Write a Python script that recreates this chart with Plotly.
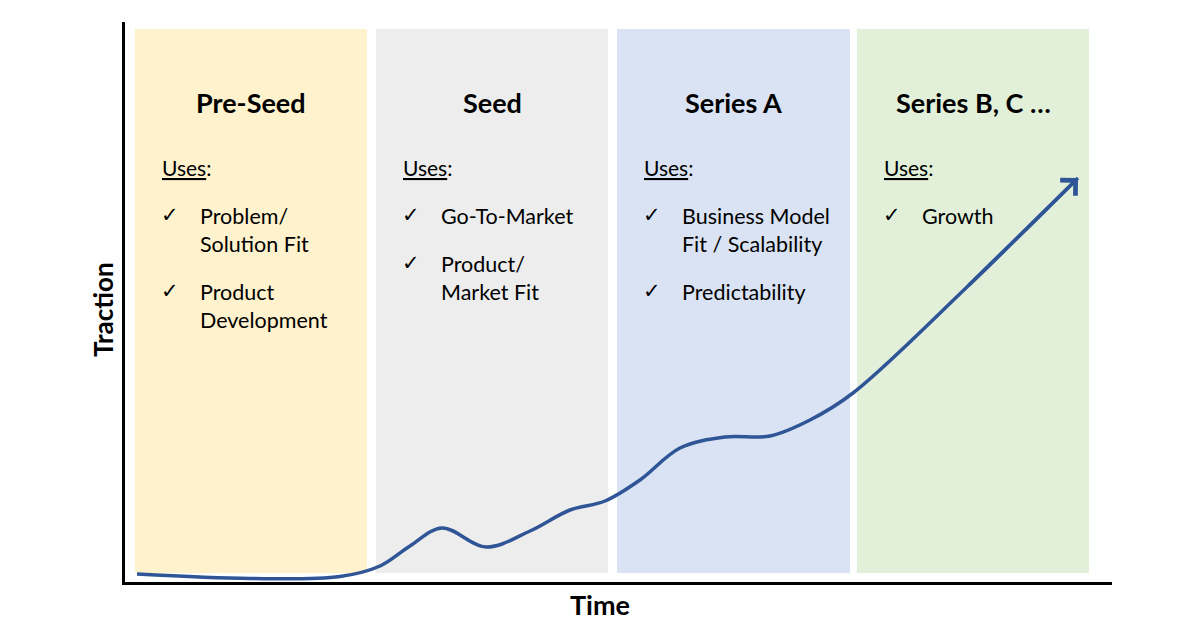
import plotly.graph_objects as go

# ---------------- data ----------------
time_pts = [0.12, 1.25, 2.15, 2.55, 2.85, 3.17, 3.61, 4.05, 4.45, 4.80, 5.15, 5.55,
            6.00, 6.45, 6.85, 7.28, 8.42, 9.53]
traction = [0.08, 0.035, 0.055, 0.16, 0.36, 0.54, 0.35, 0.51, 0.72, 0.81, 1.02, 1.34,
            1.45, 1.46, 1.62, 1.89, 2.95, 4.04]

stages = ["Pre-Seed", "Seed", "Series A", "Series B, C …"]
stage_start = [0.10, 2.51, 4.92, 7.32]
stage_end = [2.42, 4.83, 7.25, 9.64]
stage_colors = ["#FFF2CC", "#EDEDED", "#DAE3F3", "#E2F0D9"]
stage_uses = [
    [["Problem/", "Solution Fit"], ["Product", "Development"]],
    [["Go-To-Market"], ["Product/", "Market Fit"]],
    [["Business Model", "Fit / Scalability"], ["Predictability"]],
    [["Growth"]],
]
x_title = "Time"
y_title = "Traction"

# ---------------- layout constants ----------------
X_MAX, Y_MAX = 9.87, 5.60
PANEL_BOTTOM, PANEL_TOP = 0.09, 5.53
TITLE_Y, USES_Y, FIRST_ITEM_Y = 4.80, 4.15, 3.66
LINE_STEP, ITEM_GAP = 0.28, 0.20
FONT = "Lato, 'Open Sans', sans-serif"
LINE_COLOR = "#2F5597"

fig = go.Figure()

shapes = []
annotations = []
for name, x0, x1, col, uses in zip(stages, stage_start, stage_end, stage_colors, stage_uses):
    shapes.append(dict(type="rect", xref="x", yref="y", x0=x0, x1=x1,
                       y0=PANEL_BOTTOM, y1=PANEL_TOP, fillcolor=col,
                       line=dict(width=0), layer="below"))
    annotations.append(dict(x=(x0 + x1) / 2, y=TITLE_Y, xref="x", yref="y",
                            text=f"<b>{name}</b>", showarrow=False,
                            font=dict(family=FONT, size=27, color="#000000"),
                            xanchor="center", yanchor="middle"))
    annotations.append(dict(x=x0 + 0.25, y=USES_Y, xref="x", yref="y",
                            text="<span style='text-decoration:underline'>Uses</span>:",
                            showarrow=False,
                            font=dict(family=FONT, size=21, color="#000000"),
                            xanchor="left", yanchor="middle"))
    y = FIRST_ITEM_Y
    for item in uses:
        annotations.append(dict(x=x0 + 0.35, y=y + 0.015, xref="x", yref="y",
                                text="<b>✓</b>", showarrow=False,
                                font=dict(family="DejaVu Sans", size=21, color="#000000"),
                                xanchor="center", yanchor="middle"))
        for line in item:
            annotations.append(dict(x=x0 + 0.63, y=y, xref="x", yref="y",
                                    text=line, showarrow=False,
                                    font=dict(family=FONT, size=21.5, color="#000000"),
                                    xanchor="left", yanchor="middle"))
            y -= LINE_STEP
        y -= ITEM_GAP

# curve
fig.add_trace(go.Scatter(x=time_pts, y=traction, mode="lines",
                         line=dict(color=LINE_COLOR, width=3.5, shape="spline", smoothing=1.0),
                         hoverinfo="skip", showlegend=False))

# arrow head at the end of the curve
annotations.append(dict(x=time_pts[-1], y=traction[-1], ax=time_pts[-2], ay=traction[-2],
                        xref="x", yref="y", axref="x", ayref="y", text="",
                        showarrow=True, arrowhead=4, arrowsize=1.2, arrowwidth=3.5,
                        arrowcolor=LINE_COLOR))

# axis titles (paper coordinates, outside the plotting area)
annotations.append(dict(x=(600 - 125) / 987, y=-(604 - 582) / 560, xref="paper", yref="paper",
                        text=f"<b>{x_title}</b>", showarrow=False,
                        font=dict(family=FONT, size=27, color="#000000"),
                        xanchor="center", yanchor="middle"))
annotations.append(dict(x=-(125 - 103) / 987, y=(582 - 310) / 560, xref="paper", yref="paper",
                        text=f"<b>{y_title}</b>", showarrow=False, textangle=-90,
                        font=dict(family=FONT, size=26, color="#000000"),
                        xanchor="center", yanchor="middle"))

fig.update_layout(
    width=1200, height=630,
    margin=dict(l=125, r=88, t=22, b=48),
    paper_bgcolor="white", plot_bgcolor="white",
    shapes=shapes, annotations=annotations,
    showlegend=False,
    xaxis=dict(range=[0, X_MAX], showgrid=False, zeroline=False, showticklabels=False,
               ticks="", showline=True, linecolor="#000000", linewidth=3, fixedrange=True),
    yaxis=dict(range=[0, Y_MAX], showgrid=False, zeroline=False, showticklabels=False,
               ticks="", showline=True, linecolor="#000000", linewidth=3, fixedrange=True),
)

fig.write_html("out.html", config={"displayModeBar": False})
